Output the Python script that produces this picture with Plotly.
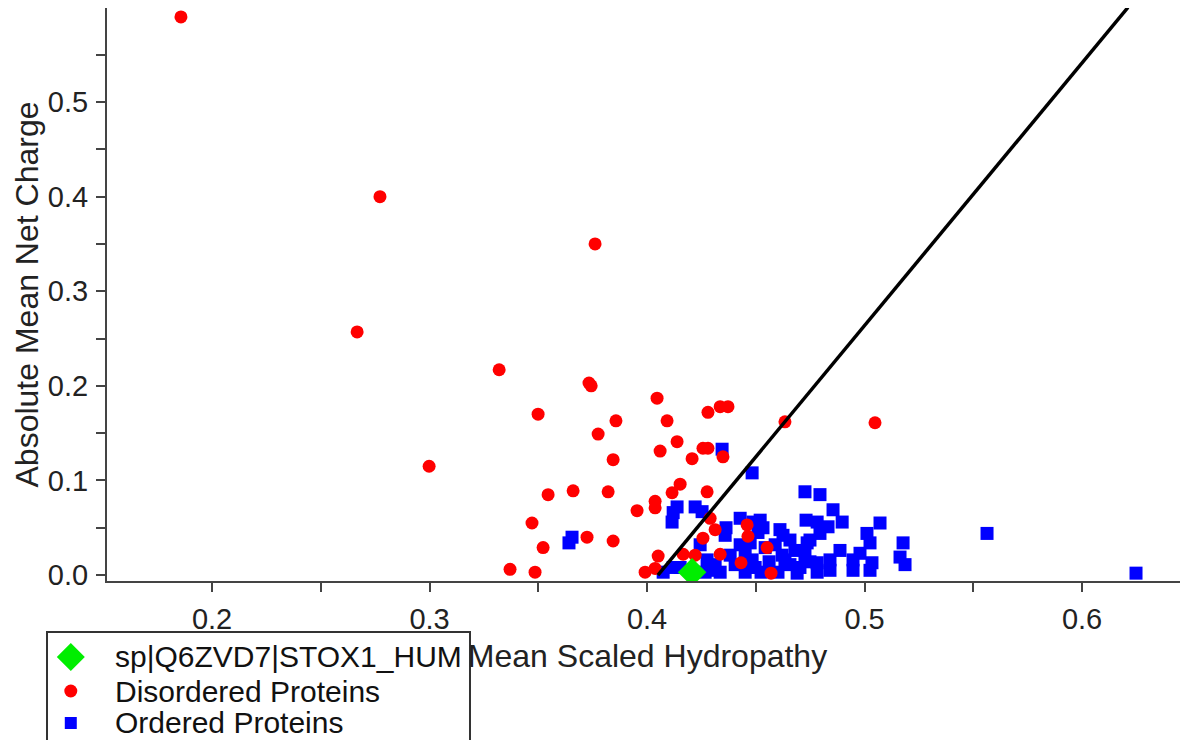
import plotly.graph_objects as go

# Disordered proteins (red)
dis_x = [0.1857, 0.2772, 0.3761, 0.2667, 0.3320, 0.3733, 0.3743, 0.2998, 0.4046, 0.3499,
         0.3857, 0.4092, 0.4280, 0.4336, 0.4372, 0.4634, 0.5048, 0.3775, 0.4138, 0.4060,
         0.4257, 0.4280, 0.4207, 0.4349, 0.3844, 0.3545, 0.3660, 0.3821, 0.4152, 0.4115,
         0.4276, 0.3954, 0.4037, 0.4037, 0.3471, 0.3724, 0.3844, 0.3522, 0.4290, 0.4313,
         0.4257, 0.4336, 0.4051, 0.4166, 0.4221, 0.3370, 0.3485, 0.3991, 0.4037, 0.4460,
         0.4464, 0.4552, 0.4432, 0.4570]
dis_y = [0.590, 0.400, 0.350, 0.257, 0.217, 0.203, 0.200, 0.115, 0.187, 0.170,
         0.163, 0.163, 0.172, 0.178, 0.178, 0.162, 0.161, 0.149, 0.141, 0.131,
         0.134, 0.134, 0.123, 0.125, 0.122, 0.085, 0.089, 0.088, 0.096, 0.087,
         0.088, 0.068, 0.078, 0.071, 0.055, 0.040, 0.036, 0.029, 0.060, 0.048,
         0.039, 0.022, 0.020, 0.022, 0.021, 0.006, 0.003, 0.003, 0.007, 0.053,
         0.041, 0.029, 0.013, 0.002]

# Ordered proteins (blue)
ord_x = [0.4345, 0.4483, 0.4138, 0.4120, 0.4115, 0.4221, 0.4253, 0.3655, 0.3641, 0.4244,
         0.4074, 0.4120, 0.4290, 0.4336, 0.4428, 0.4487, 0.4510, 0.4474, 0.4428, 0.4359,
         0.4363, 0.4382, 0.4405, 0.4451, 0.4497, 0.4543, 0.4520, 0.4533, 0.4611, 0.4625,
         0.4589, 0.4621, 0.4657, 0.4602, 0.4690, 0.4703, 0.4726, 0.4795, 0.4855, 0.4897,
         0.5071, 0.4731, 0.4782, 0.4832, 0.4795, 0.4749, 0.4736, 0.5011, 0.5025, 0.4887,
         0.4979, 0.4947, 0.4947, 0.5034, 0.5025, 0.4841, 0.4841, 0.4782, 0.4782, 0.5177,
         0.5163, 0.5186, 0.5563, 0.6248, 0.4657, 0.4680, 0.4726, 0.4749, 0.4634, 0.4276,
         0.4313, 0.4152, 0.4267, 0.4524, 0.4561, 0.4451, 0.4483]
ord_y = [0.133, 0.108, 0.072, 0.066, 0.056, 0.072, 0.067, 0.040, 0.034, 0.032,
         0.003, 0.008, 0.005, 0.003, 0.060, 0.056, 0.045, 0.034, 0.032, 0.042,
         0.050, 0.021, 0.011, 0.003, 0.008, 0.029, 0.058, 0.050, 0.048, 0.042,
         0.032, 0.021, 0.011, 0.003, 0.002, 0.008, 0.088, 0.085, 0.069, 0.056,
         0.055, 0.058, 0.056, 0.051, 0.044, 0.037, 0.034, 0.044, 0.034, 0.026,
         0.023, 0.016, 0.005, 0.013, 0.005, 0.016, 0.005, 0.013, 0.003, 0.034,
         0.019, 0.011, 0.044, 0.002, 0.037, 0.026, 0.021, 0.014, 0.016, 0.016,
         0.011, 0.008, 0.003, 0.003, 0.014, 0.021, 0.016]

# Query protein (green)
query_name = "sp|Q6ZVD7|STOX1_HUM"
query_x = [0.4207]
query_y = [0.003]

# Boundary line
line_x = [0.405, 0.6211]
line_y = [0.0, 0.600]

# Legend entries (top to bottom)
legend_names = [query_name, "Disordered Proteins", "Ordered Proteins"]
legend_colors = ["#00ee00", "#ff0000", "#0000ff"]

FONT = "Liberation Sans, Arial, Helvetica, sans-serif"

fig = go.Figure()
fig.add_trace(go.Scatter(x=ord_x, y=ord_y, mode="markers", name="Ordered Proteins",
                         marker=dict(symbol="square", size=13, color="#0000ff",
                                     line=dict(width=0))))
fig.add_trace(go.Scatter(x=dis_x, y=dis_y, mode="markers", name="Disordered Proteins",
                         marker=dict(symbol="circle", size=13, color="#ff0000",
                                     line=dict(width=0))))
fig.add_trace(go.Scatter(x=line_x, y=line_y, mode="lines", name="boundary",
                         line=dict(color="black", width=3.5)))
fig.add_trace(go.Scatter(x=query_x, y=query_y, mode="markers", name=query_name,
                         marker=dict(symbol="diamond", size=22, color="#00ee00",
                                     line=dict(width=0))))

# Custom legend (box, keys, labels) below-left of the plot, in paper units
leg_left, leg_right, leg_top, leg_bottom = -0.0555, 0.3358, -0.089, -0.33
leg_key_x = -0.0335
leg_text_x = 0.0056
leg_rows = [-0.1326, -0.1920, -0.2478]

fig.add_shape(type="rect", xref="paper", yref="paper",
              x0=leg_left, x1=leg_right, y0=leg_bottom, y1=leg_top,
              line=dict(color="#333333", width=2), fillcolor="white", layer="below")

key_common = dict(xref="paper", yref="paper", xsizemode="pixel", ysizemode="pixel",
                  xanchor=leg_key_x, line=dict(width=0), layer="above")
# diamond key
fig.add_shape(type="path", yanchor=leg_rows[0], fillcolor=legend_colors[0],
              path="M -14 0 L 0 14 L 14 0 L 0 -14 Z", **key_common)
# circle key
fig.add_shape(type="circle", yanchor=leg_rows[1], fillcolor=legend_colors[1],
              x0=-6.5, x1=6.5, y0=-6.5, y1=6.5, **key_common)
# square key
fig.add_shape(type="rect", yanchor=leg_rows[2], fillcolor=legend_colors[2],
              x0=-6, x1=6, y0=-6, y1=6, **key_common)

for name, ry in zip(legend_names, leg_rows):
    fig.add_annotation(x=leg_text_x, y=ry, xref="paper", yref="paper",
                       text=name, showarrow=False, xanchor="left", yanchor="middle",
                       font=dict(family=FONT, size=30, color="#111111"))

tick_font = dict(family=FONT, size=29, color="#222222")
title_font = dict(family=FONT, size=32, color="#222222")
axis_common = dict(showgrid=False, zeroline=False, automargin=False,
                   showline=True, linecolor="#444444", linewidth=2,
                   ticks="outside", ticklen=9, tickwidth=2, tickcolor="#444444",
                   dtick=0.1, tick0=0.0, tickformat=".1f", tickfont=tick_font,
                   minor=dict(dtick=0.05, ticks="outside", ticklen=9, tickwidth=2,
                              tickcolor="#444444"))

fig.update_layout(
    width=1188, height=740,
    margin=dict(l=99, r=8, t=0, b=167, autoexpand=False),
    paper_bgcolor="white", plot_bgcolor="white",
    font=dict(family=FONT, size=30, color="#222222"),
    showlegend=False,
    xaxis=dict(range=[0.1517, 0.6487], ticklabelstandoff=2,
               title=dict(text="Mean Scaled Hydropathy", standoff=11, font=title_font),
               **axis_common),
    yaxis=dict(range=[-0.0063, 0.5994], ticklabelstandoff=2,
               title=dict(text="Absolute Mean Net Charge", standoff=0, font=title_font),
               **axis_common),
)

fig.write_html("out.html")
